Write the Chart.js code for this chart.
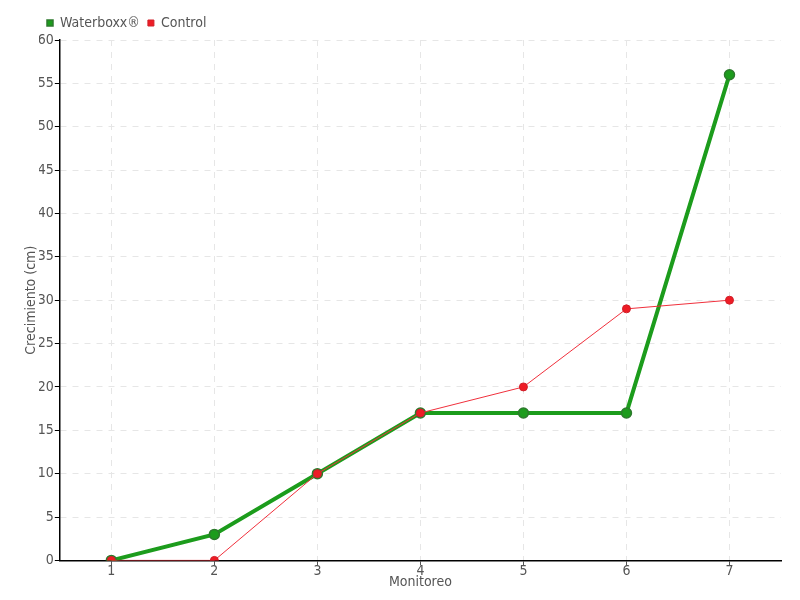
<!DOCTYPE html>
<html>
<head>
<meta charset="utf-8">
<script src="https://cdn.jsdelivr.net/npm/chart.js@4/dist/chart.umd.min.js"></script>
<style>
  html, body { margin: 0; padding: 0; background: #fff; }
  #wrap { width: 800px; height: 600px; }
</style>
</head>
<body>
<div id="wrap"><canvas id="grafico"></canvas></div>
<script>
const monitoreos = ['1', '2', '3', '4', '5', '6', '7'];
const waterboxx = [0, 3, 10, 17, 17, 17, 56];
const control = [0, 0, 10, 17, 20, 29, 30];

const fuente = '"Liberation Sans Narrow", "DejaVu Sans Condensed", sans-serif';
Chart.defaults.font.family = fuente;
Chart.defaults.color = '#555';

new Chart(document.getElementById('grafico'), {
  type: 'line',
  data: {
    labels: monitoreos,
    datasets: [
      {
        label: 'Waterboxx®',
        data: waterboxx,
        order: 1,
        borderColor: '#1c9c1c',
        backgroundColor: '#1c9c1c',
        pointBackgroundColor: '#1c9c1c',
        pointBorderColor: '#2d7a2d',
        pointBorderWidth: 1.5,
        borderWidth: 4,
        pointRadius: 5,
        tension: 0
      },
      {
        label: 'Control',
        data: control,
        order: 0,
        borderColor: '#f0303c',
        backgroundColor: '#ee1c25',
        pointBackgroundColor: '#ee1c25',
        pointBorderColor: '#d0202a',
        pointBorderWidth: 1,
        borderWidth: 1,
        pointRadius: 4,
        tension: 0
      }
    ]
  },
  options: {
    responsive: true,
    maintainAspectRatio: false,
    animation: false,
    layout: { padding: { left: 39, right: 19, top: 8, bottom: 12 } },
    plugins: {
      legend: {
        align: 'start',
        labels: {
          usePointStyle: true,
          pointStyle: 'rect',
          boxWidth: 6,
          boxHeight: 6,
          padding: 8,
          font: { size: 14 },
          color: '#555',
          sort: (a, b) => a.datasetIndex - b.datasetIndex
        }
      },
      tooltip: { enabled: false }
    },
    scales: {
      x: {
        offset: true,
        grid: { offset: false, color: '#e6e6e6', tickColor: '#555', tickLength: 5 },
        border: { color: '#000', width: 1.5, dash: [6, 6] },
        ticks: { font: { size: 14 }, color: '#555', padding: -2 },
        title: { display: true, text: 'Monitoreo', font: { size: 14 }, color: '#555', padding: { top: -4, bottom: -3 } }
      },
      y: {
        min: 0,
        max: 60,
        grid: { color: '#e6e6e6', tickColor: '#000', tickLength: 5 },
        border: { color: '#000', width: 1.5, dash: [6, 6] },
        ticks: { stepSize: 5, font: { size: 14 }, color: '#555', padding: 1 },
        title: { display: true, text: 'Crecimiento (cm)', font: { size: 14 }, color: '#555', padding: { top: -16, bottom: -3 } }
      }
    }
  }
});
</script>
</body>
</html>
